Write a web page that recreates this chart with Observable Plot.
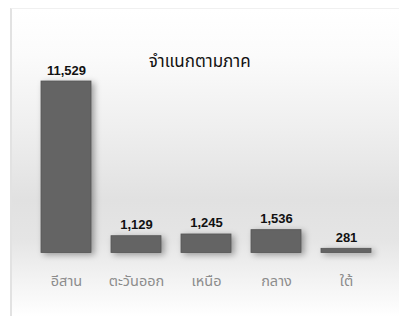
<!DOCTYPE html>
<html>
<head>
<meta charset="utf-8">
<script src="https://cdn.jsdelivr.net/npm/d3@7"></script>
<script src="https://cdn.jsdelivr.net/npm/@observablehq/plot@0.6"></script>
<style>
  html, body { margin: 0; padding: 0; background: #fff; }
  #wrap { position: relative; width: 399px; height: 316px; overflow: hidden; }
  #panel { position: absolute; left: 10px; top: 8px; width: 389px; height: 308px;
    border-left: 2px solid #e2e2e2; border-top: 1px solid #f0f0f0;
    background: linear-gradient(to bottom, #ffffff 0%, #fbfbfb 15%, #eeeeee 40%, #e1e1e1 62%, #e5e5e5 75%, #f3f3f3 88%, #ffffff 100%); }
  #chart { position: absolute; left: 0; top: 0; }
  #chart svg { background: transparent !important; }
  #chart g[aria-label="bar"] rect { filter: drop-shadow(3px 2px 3px rgba(0,0,0,0.35)); }
</style>
</head>
<body>
<div id="wrap"><div id="panel"></div><div id="chart"></div></div>
<script>
const regions = ["อีสาน", "ตะวันออก", "เหนือ", "กลาง", "ใต้"];
const counts = [11529, 1129, 1245, 1536, 281];
const title = "จำแนกตามภาค";

const data = regions.map((r, i) => ({region: r, count: counts[i]}));
const thai = "Tahoma, 'Noto Sans Thai', 'Noto Sans', 'DejaVu Sans', sans-serif";

const chart = Plot.plot({
  width: 399,
  height: 316,
  marginLeft: 20,
  marginRight: 6.5,
  marginTop: 74,
  marginBottom: 63.5,
  style: {background: "transparent", fontFamily: thai},
  x: {domain: regions, padding: 0.28, label: null},
  y: {domain: [0, 12000], axis: null},
  marks: [
    Plot.axisX({tickSize: 0, tickPadding: 23, fontSize: 14.5, color: "#8c8c8c", fontFamily: thai}),
    Plot.barY(data, {x: "region", y: "count", fill: "#646464", stroke: "#555", strokeWidth: 0.8}),
    Plot.text(data, {x: "region", y: "count", text: d => d3.format(",")(d.count),
      lineAnchor: "bottom", dy: -7, fontSize: 13, fontWeight: "bold",
      fontFamily: "'Liberation Sans', Arial, sans-serif", fill: "#111"}),
    Plot.text([title], {frameAnchor: "top", text: d => d, dx: -7, dy: -8, lineAnchor: "bottom",
      fontSize: 17, fill: "#111", fontFamily: thai})
  ]
});
document.getElementById("chart").appendChild(chart);
</script>
</body>
</html>
